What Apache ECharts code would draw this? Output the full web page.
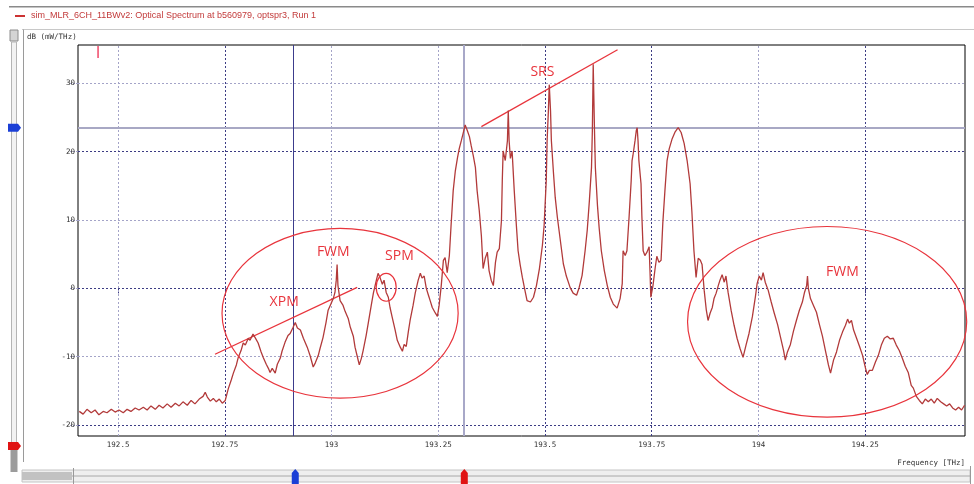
<!DOCTYPE html>
<html><head><meta charset="utf-8">
<script src="https://cdn.jsdelivr.net/npm/echarts@6/dist/echarts.min.js"></script>
<style>html,body{margin:0;padding:0;background:#fff;}#c{width:974px;height:484px;}</style>
</head><body><div id="c"></div>
<script>
// Spectrum samples: [frequency THz, power dB(mW/THz)]
const spectrum = [
[192.409,-18.0],[192.418,-18.4],[192.427,-17.7],[192.437,-18.2],[192.446,-17.8],[192.455,-18.5],[192.465,-18.0],[192.474,-18.2],
[192.484,-17.7],[192.493,-18.1],[192.502,-17.8],[192.512,-18.2],[192.521,-17.7],[192.530,-18.0],[192.540,-17.5],[192.549,-17.8],
[192.559,-17.4],[192.568,-17.8],[192.577,-17.2],[192.587,-17.7],[192.596,-17.1],[192.605,-17.5],[192.615,-16.9],[192.624,-17.4],
[192.634,-16.8],[192.643,-17.2],[192.652,-16.6],[192.662,-17.1],[192.671,-16.4],[192.680,-16.9],[192.690,-16.2],[192.699,-15.8],
[192.704,-15.2],[192.709,-15.9],[192.716,-16.5],[192.723,-16.1],[192.730,-16.6],[192.737,-16.2],[192.744,-16.8],[192.751,-16.4],
[192.758,-14.7],[192.765,-13.4],[192.770,-12.4],[192.777,-11.2],[192.781,-10.2],[192.788,-9.1],[192.793,-8.0],[192.798,-8.3],
[192.805,-7.3],[192.809,-7.6],[192.816,-6.7],[192.821,-7.2],[192.828,-8.0],[192.835,-9.3],[192.840,-10.1],[192.847,-11.1],
[192.852,-11.7],[192.856,-12.3],[192.861,-11.7],[192.868,-12.4],[192.873,-11.1],[192.880,-10.2],[192.884,-9.2],[192.891,-7.9],
[192.898,-6.9],[192.903,-6.6],[192.910,-5.7],[192.915,-5.0],[192.920,-5.8],[192.927,-6.1],[192.934,-7.3],[192.943,-8.6],
[192.950,-9.9],[192.957,-11.5],[192.962,-10.9],[192.969,-9.8],[192.973,-8.8],[192.980,-7.2],[192.987,-5.0],[192.992,-3.2],
[192.999,-2.2],[193.004,-1.5],[193.008,-0.6],[193.011,1.2],[193.013,3.5],[193.015,0.4],[193.020,-1.8],[193.027,-2.5],
[193.032,-3.4],[193.039,-4.4],[193.044,-5.7],[193.051,-7.0],[193.055,-8.6],[193.060,-9.9],[193.065,-11.2],[193.070,-10.2],
[193.074,-9.1],[193.081,-6.9],[193.086,-5.1],[193.093,-2.5],[193.098,-0.7],[193.105,1.2],[193.109,2.2],[193.114,1.5],
[193.119,0.6],[193.123,1.2],[193.128,-0.6],[193.133,-1.3],[193.137,-2.8],[193.142,-4.2],[193.149,-6.1],[193.154,-7.6],
[193.161,-8.6],[193.166,-9.2],[193.170,-8.2],[193.175,-8.5],[193.180,-6.3],[193.184,-4.7],[193.191,-2.5],[193.196,-0.7],
[193.203,1.2],[193.208,2.2],[193.212,1.5],[193.217,1.8],[193.222,0.0],[193.227,-1.0],[193.231,-1.8],[193.236,-2.8],
[193.243,-3.6],[193.248,-4.1],[193.252,-2.5],[193.257,0.4],[193.262,4.1],[193.266,4.5],[193.271,2.3],[193.276,4.8],
[193.280,9.2],[193.285,14.3],[193.290,17.2],[193.295,19.1],[193.299,20.4],[193.304,21.6],[193.308,22.6],[193.313,23.9],
[193.318,23.1],[193.323,22.2],[193.327,20.9],[193.332,19.4],[193.337,17.7],[193.341,14.3],[193.346,11.4],[193.351,7.7],
[193.355,2.9],[193.360,4.4],[193.365,5.3],[193.369,2.6],[193.374,1.2],[193.379,0.4],[193.384,3.8],[193.388,5.3],
[193.393,5.8],[193.398,9.9],[193.400,15.8],[193.402,20.1],[193.407,18.7],[193.412,21.6],[193.414,26.0],[193.416,21.6],
[193.419,19.0],[193.423,20.1],[193.428,14.3],[193.433,9.2],[193.437,5.5],[193.442,3.4],[193.447,1.6],[193.454,-0.6],
[193.458,-1.8],[193.466,-2.0],[193.473,-1.3],[193.480,0.4],[193.487,2.9],[193.494,6.3],[193.498,9.2],[193.503,15.8],
[193.505,21.6],[193.508,26.0],[193.510,29.8],[193.513,26.0],[193.515,21.6],[193.520,16.8],[193.524,13.3],[193.529,10.4],
[193.536,7.0],[193.543,3.6],[193.550,1.8],[193.559,0.1],[193.566,-0.7],[193.574,-1.0],[193.580,0.1],[193.587,1.9],
[193.594,5.5],[193.599,8.5],[193.604,12.8],[193.609,17.7],[193.611,23.1],[193.613,32.8],[193.616,23.1],[193.618,17.7],
[193.623,12.1],[193.627,8.8],[193.632,5.5],[193.639,2.6],[193.646,0.4],[193.653,-1.3],[193.660,-2.3],[193.669,-2.9],
[193.676,-1.5],[193.681,0.7],[193.683,5.5],[193.688,4.8],[193.692,5.5],[193.697,10.4],[193.702,15.8],[193.704,18.7],
[193.706,19.4],[193.711,21.6],[193.714,23.1],[193.716,23.5],[193.718,21.6],[193.720,18.7],[193.725,15.3],[193.727,10.6],
[193.730,5.5],[193.734,4.8],[193.739,5.3],[193.744,6.1],[193.746,2.6],[193.748,-1.3],[193.753,0.4],[193.758,2.9],
[193.762,4.7],[193.767,3.8],[193.772,4.1],[193.776,9.5],[193.781,14.3],[193.786,18.7],[193.791,20.4],[193.798,21.9],
[193.805,22.9],[193.812,23.5],[193.819,22.8],[193.826,21.2],[193.833,18.7],[193.840,15.3],[193.844,11.4],[193.849,5.5],
[193.854,1.6],[193.859,4.4],[193.864,4.1],[193.868,3.5],[193.873,-0.3],[193.878,-3.2],[193.882,-4.7],[193.887,-3.6],
[193.892,-2.8],[193.896,-1.5],[193.901,-0.7],[193.906,0.4],[193.910,1.2],[193.915,2.0],[193.920,0.9],[193.924,1.8],
[193.929,-0.6],[193.936,-3.2],[193.943,-5.4],[193.950,-7.3],[193.957,-8.8],[193.964,-10.1],[193.971,-8.3],[193.978,-6.6],
[193.986,-4.1],[193.993,-1.2],[193.997,0.7],[194.002,1.8],[194.007,1.2],[194.011,2.3],[194.016,0.9],[194.023,-0.3],
[194.030,-2.0],[194.037,-3.6],[194.045,-5.3],[194.052,-7.2],[194.059,-9.1],[194.063,-10.5],[194.068,-9.3],[194.075,-8.2],
[194.082,-6.3],[194.089,-4.7],[194.096,-3.2],[194.103,-2.0],[194.108,-0.6],[194.113,0.4],[194.115,1.8],[194.117,0.0],
[194.122,-1.5],[194.129,-2.5],[194.136,-3.5],[194.143,-5.3],[194.150,-7.0],[194.157,-9.1],[194.164,-11.2],[194.169,-12.4],
[194.176,-10.5],[194.183,-9.3],[194.190,-7.6],[194.197,-6.4],[194.204,-5.4],[194.209,-4.5],[194.213,-5.1],[194.218,-4.7],
[194.223,-6.1],[194.230,-7.3],[194.237,-8.5],[194.244,-9.8],[194.251,-11.7],[194.255,-12.6],[194.260,-12.0],[194.267,-12.0],
[194.274,-10.8],[194.281,-9.8],[194.288,-8.3],[194.295,-7.3],[194.302,-7.0],[194.309,-7.4],[194.316,-7.3],[194.323,-8.3],
[194.330,-9.1],[194.337,-10.2],[194.344,-11.4],[194.351,-12.3],[194.358,-14.2],[194.363,-14.6],[194.370,-15.8],[194.377,-16.4],
[194.384,-16.9],[194.391,-16.2],[194.398,-16.6],[194.405,-16.2],[194.412,-16.8],[194.419,-16.1],[194.427,-16.6],[194.434,-16.9],
[194.441,-17.2],[194.448,-16.9],[194.455,-17.5],[194.462,-17.8],[194.469,-17.4],[194.476,-17.8],[194.483,-17.1]
];
const xTicks = [192.5, 192.75, 193, 193.25, 193.5, 193.75, 194, 194.25];
const yTicks = [-20, -10, 0, 10, 20, 30];
const xRange = [192.406, 194.484];
const yRange = [-21.6, 35.6];
const xGridDark = [false, true, false, false, true, true, false, true];
const yGridDark = [true, false, true, false, true, false];
// markers (cursors)
const cursorBlueFreq = 192.915;
const cursorRedFreq = 193.311;
const cursorLevel = 23.5;
const refMarkFreq = 192.453;
// annotations in data coords
const annoLines = [
  [[192.727, -9.64], [193.060, 0.15]],   // XPM
  [[193.351, 23.65], [193.670, 34.9]]    // SRS
];
const annoEllipses = [
  {c: [193.020, -3.65], rx: 0.2766, ry: 12.41},
  {c: [194.161, -4.89], rx: 0.327, ry: 13.94},
  {c: [193.128, 0.15], rx: 0.0234, ry: 2.04}
];
const annoTexts = [
  {t: 'XPM', p: [192.889, -2.04]},
  {t: 'FWM', p: [193.004, 5.26]},
  {t: 'SPM', p: [193.159, 4.67]},
  {t: 'SRS', p: [193.494, 31.68]},
  {t: 'FWM', p: [194.197, 2.34]}
];

const RED = '#e8343c';
const LIGHT = '#a4a4c8', DARK = '#3c3c84';
const chart = echarts.init(document.getElementById('c'), null, {renderer: 'canvas'});

const gridLines = [];
xTicks.forEach((v, i) => gridLines.push({xAxis: v, lineStyle: {color: xGridDark[i] ? DARK : LIGHT, type: [2, 2], width: 1}}));
yTicks.forEach((v, i) => gridLines.push({yAxis: v, lineStyle: {color: yGridDark[i] ? DARK : LIGHT, type: [2, 2], width: 1}}));
gridLines.push({yAxis: cursorLevel, lineStyle: {color: '#a8a8c4', type: 'solid', width: 2}});
gridLines.push({xAxis: cursorBlueFreq, lineStyle: {color: '#3c3c8c', type: 'solid', width: 1}});
gridLines.push({xAxis: cursorRedFreq, lineStyle: {color: '#a8a8c8', type: 'solid', width: 2}});
annoLines.forEach(l => gridLines.push([{coord: l[0], lineStyle: {color: RED, width: 1.3, type: 'solid'}}, {coord: l[1]}]));

const monoFont = '"DejaVu Sans Mono", monospace';
chart.setOption({
  animation: false,
  grid: {left: 78, top: 45, right: 9, bottom: 48, show: true, borderColor: '#000', borderWidth: 1, backgroundColor: 'transparent'},
  xAxis: {
    type: 'value', min: xRange[0], max: xRange[1],
    axisLine: {show: false}, splitLine: {show: false},
    axisTick: {show: true, customValues: xTicks, length: 5, lineStyle: {color: DARK, type: [2, 1]}},
    axisLabel: {customValues: xTicks, margin: 5, fontFamily: monoFont, fontSize: 7.5, color: '#333'}
  },
  yAxis: {
    type: 'value', min: yRange[0], max: yRange[1],
    axisLine: {show: false}, splitLine: {show: false},
    axisTick: {show: true, customValues: yTicks, length: 8, lineStyle: {color: LIGHT, type: [2, 1]}},
    axisLabel: {customValues: yTicks, margin: 3, fontFamily: monoFont, fontSize: 7.5, color: '#333'}
  },
  series: [{
    type: 'line', data: spectrum, showSymbol: false, symbol: 'none',
    lineStyle: {color: '#b23a3a', width: 1.3},
    z: 5,
    markLine: {silent: true, symbol: 'none', label: {show: false}, data: gridLines, z: 3}
  }]
});

function px(p) { return chart.convertToPixel({gridIndex: 0}, p); }
const g = [];
// annotations
annoEllipses.forEach(e => {
  const c = px(e.c);
  const r1 = px([e.c[0] + e.rx, e.c[1]]);
  const r2 = px([e.c[0], e.c[1] + e.ry]);
  g.push({type: 'ellipse', shape: {cx: c[0], cy: c[1], rx: Math.abs(r1[0] - c[0]), ry: Math.abs(c[1] - r2[1])},
    style: {fill: 'none', stroke: RED, lineWidth: 1.2}, z: 10});
});
annoTexts.forEach(a => {
  const c = px(a.p);
  g.push({type: 'text', x: c[0], y: c[1], style: {text: a.t, fill: RED, font: '14px "Open Sans", sans-serif', align: 'center', verticalAlign: 'middle'}, z: 10});
});
// ref marker at top
const rm = px([refMarkFreq, yRange[1]]);
g.push({type: 'line', shape: {x1: rm[0], y1: rm[1] + 1, x2: rm[0], y2: rm[1] + 13}, style: {stroke: '#f04868', lineWidth: 1.5}, z: 10});
// chrome
g.push({type: 'rect', shape: {x: 9, y: 6, width: 965, height: 1.5}, style: {fill: '#8a8a8a'}});
g.push({type: 'rect', shape: {x: 15, y: 15, width: 10, height: 2}, style: {fill: '#cc3333'}});
g.push({type: 'text', x: 31, y: 16, style: {text: 'sim_MLR_6CH_11BWv2: Optical Spectrum at b560979, optspr3, Run 1', fill: '#c23a3a', font: '9px "Liberation Sans", Arial, sans-serif', verticalAlign: 'middle'}});
g.push({type: 'line', shape: {x1: 22, y1: 29.5, x2: 974, y2: 29.5}, style: {stroke: '#c8c8c8', lineWidth: 1}});
g.push({type: 'line', shape: {x1: 23.5, y1: 29.5, x2: 23.5, y2: 462}, style: {stroke: '#9a9a9a', lineWidth: 1}});
g.push({type: 'text', x: 27, y: 37, style: {text: 'dB (mW/THz)', fill: '#333', font: '7.5px ' + monoFont, verticalAlign: 'middle'}});
g.push({type: 'text', x: 965, y: 463, style: {text: 'Frequency [THz]', fill: '#333', font: '7.5px ' + monoFont, verticalAlign: 'middle', align: 'right'}});
// left scrollbar
g.push({type: 'rect', shape: {x: 10, y: 30, width: 8, height: 11}, style: {fill: '#d4d4d4', stroke: '#8c8c8c', lineWidth: 1}});
g.push({type: 'rect', shape: {x: 11.5, y: 42, width: 5, height: 404}, style: {fill: '#f2f2f2', stroke: '#b4b4b4', lineWidth: 1}});
g.push({type: 'rect', shape: {x: 10.5, y: 450, width: 7, height: 22}, style: {fill: '#9c9c9c'}});
const yb = px([xRange[0], cursorLevel])[1];
g.push({type: 'polygon', shape: {points: [[8, yb - 4], [18, yb - 4], [21, yb], [18, yb + 4], [8, yb + 4]]}, style: {fill: '#1b3fd6'}});
const yr = 446;
g.push({type: 'polygon', shape: {points: [[8, yr - 4], [18, yr - 4], [21, yr], [18, yr + 4], [8, yr + 4]]}, style: {fill: '#e01414'}});
// bottom scrollbar
g.push({type: 'rect', shape: {x: 22, y: 470, width: 948, height: 12}, style: {fill: '#efefef', stroke: '#c4c4c4', lineWidth: 1}});
g.push({type: 'line', shape: {x1: 72, y1: 476, x2: 970, y2: 476}, style: {stroke: '#a8a8a8', lineWidth: 1}});
g.push({type: 'rect', shape: {x: 22, y: 472, width: 50, height: 8}, style: {fill: '#c2c2c2'}});
g.push({type: 'line', shape: {x1: 73.5, y1: 468, x2: 73.5, y2: 484}, style: {stroke: '#999', lineWidth: 1}});
g.push({type: 'line', shape: {x1: 970.5, y1: 466, x2: 970.5, y2: 484}, style: {stroke: '#999', lineWidth: 1}});
const xb = px([cursorBlueFreq, 0])[0];
const xr = px([cursorRedFreq, 0])[0];
g.push({type: 'polygon', shape: {points: [[xb - 3.5, 484], [xb - 3.5, 473], [xb, 469], [xb + 3.5, 473], [xb + 3.5, 484]]}, style: {fill: '#1b3fd6'}});
g.push({type: 'polygon', shape: {points: [[xr - 3.5, 484], [xr - 3.5, 473], [xr, 469], [xr + 3.5, 473], [xr + 3.5, 484]]}, style: {fill: '#e01414'}});
chart.setOption({graphic: {elements: g}});
</script>
</body></html>
